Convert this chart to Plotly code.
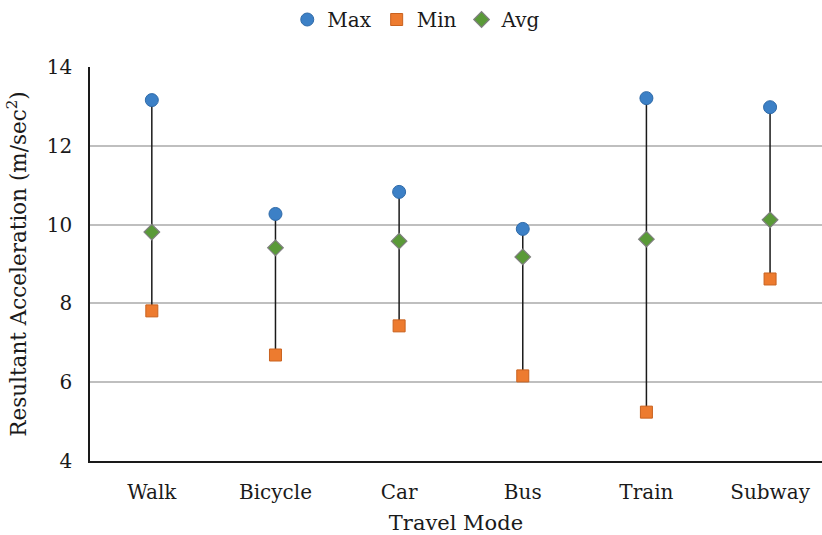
import plotly.graph_objects as go

# Resultant acceleration per travel mode (m/sec^2)
modes = ["Walk", "Bicycle", "Car", "Bus", "Train", "Subway"]
max_vals = [13.16, 10.27, 10.83, 9.89, 13.21, 12.98]
min_vals = [7.81, 6.69, 7.43, 6.16, 5.24, 8.62]
avg_vals = [9.81, 9.41, 9.58, 9.18, 9.63, 10.12]

FONT = "DejaVu Serif"

# vertical high-low connectors, one segment per mode
seg_x, seg_y = [], []
for m, lo, hi in zip(modes, min_vals, max_vals):
    seg_x += [m, m, None]
    seg_y += [lo, hi, None]

fig = go.Figure()
fig.add_trace(go.Scatter(
    x=seg_x, y=seg_y, mode="lines",
    line=dict(color="#1a1a1a", width=1.5),
    showlegend=False, hoverinfo="skip",
))
fig.add_trace(go.Scatter(
    x=modes, y=max_vals, mode="markers", name="Max",
    marker=dict(symbol="circle", size=13, color="#3c80c6",
                line=dict(color="#2f6aa8", width=1)),
))
fig.add_trace(go.Scatter(
    x=modes, y=min_vals, mode="markers", name="Min",
    marker=dict(symbol="square", size=12, color="#ed7b2f",
                line=dict(color="#c9621f", width=1)),
))
fig.add_trace(go.Scatter(
    x=modes, y=avg_vals, mode="markers", name="Avg",
    marker=dict(symbol="diamond", size=12, color="#5a9a38",
                line=dict(color="#7f7f7f", width=1.2)),
))

fig.update_layout(
    width=822, height=535,
    margin=dict(l=90, r=0, t=67, b=74),
    paper_bgcolor="white", plot_bgcolor="white",
    font=dict(family=FONT, size=20, color="#1a1a1a"),
    legend=dict(orientation="h", xref="container", yref="container",
                x=0.507, xanchor="center", y=1.0, yanchor="top",
                font=dict(size=20), itemwidth=30, tracegroupgap=0),
    xaxis=dict(
        type="category", range=[-0.5, 5.42],
        showline=True, linecolor="#1a1a1a", linewidth=1.5,
        showgrid=False, ticks="", ticklabelstandoff=12,
        title=dict(text="Travel Mode", standoff=16, font=dict(size=21)),
    ),
    yaxis=dict(
        range=[4, 14], dtick=2,
        showline=True, linecolor="#1a1a1a", linewidth=1.5,
        showgrid=True, gridcolor="#bfbfbf", gridwidth=1.5,
        zeroline=False, ticks="", ticklabelstandoff=12,
        title=dict(text="Resultant Acceleration (m/sec<sup>2</sup>)",
                   standoff=14, font=dict(size=21.5)),
    ),
)

fig.write_html("out.html")
